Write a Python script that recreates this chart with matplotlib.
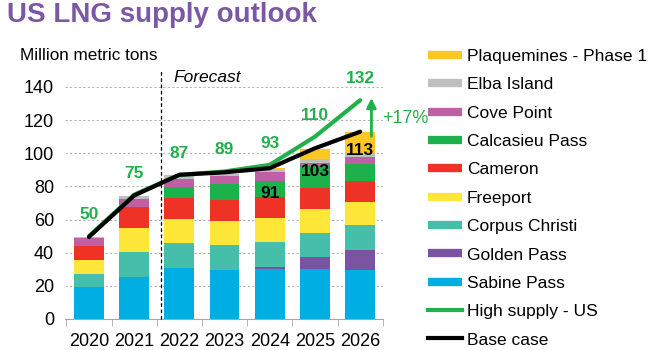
import numpy as np
import matplotlib
matplotlib.use('Agg')
from matplotlib import pyplot as plt
from matplotlib.lines import Line2D

plt.rcParams['font.family'] = ['Liberation Sans', 'DejaVu Sans']

years = ['2020', '2021', '2022', '2023', '2024', '2025', '2026']

# stacked terminal supply, million metric tons (bottom -> top)
sabine_pass = [19.5, 25.3, 30.8, 29.6, 30.2, 30.2, 29.6]
golden_pass = [0.0, 0.0, 0.0, 0.0, 1.2, 7.2, 12.0]
corpus_christi = [7.6, 15.1, 15.1, 15.1, 15.1, 14.5, 15.1]
freeport = [8.4, 14.4, 14.5, 14.5, 14.5, 14.5, 13.9]
cameron = [8.5, 12.7, 12.8, 12.8, 12.6, 12.9, 12.7]
calcasieu_pass = [0.0, 0.0, 6.5, 9.5, 9.7, 13.1, 10.3]
cove_point = [5.0, 4.8, 4.8, 5.0, 5.6, 2.0, 4.4]
elba_island = [0.6, 2.0, 2.4, 0.8, 1.6, 2.0, 2.0]
plaquemines = [0.0, 0.0, 0.0, 0.0, 0.8, 6.0, 12.9]

high_supply = [50, 75, 87, 89, 93, 110, 132]
base_case = [49.5, 74.5, 87, 88.5, 91, 103, 113]
base_labels = {4: '91', 5: '103', 6: '113'}

series = [
    ('Sabine Pass', sabine_pass, '#00AEE3'),
    ('Golden Pass', golden_pass, '#7A53A3'),
    ('Corpus Christi', corpus_christi, '#45BFAA'),
    ('Freeport', freeport, '#FFE73A'),
    ('Cameron', cameron, '#EE3226'),
    ('Calcasieu Pass', calcasieu_pass, '#1DB14C'),
    ('Cove Point', cove_point, '#BF5FA5'),
    ('Elba Island', elba_island, '#BFBFBF'),
    ('Plaquemines - Phase 1', plaquemines, '#FFC726'),
]

GREEN = '#22B04B'
PURPLE = '#7B58A6'

fig = plt.figure(figsize=(6.52, 3.5), dpi=100)
ax = fig.add_axes([0.0997, 0.0886, 0.4873, 0.6866])

x = np.arange(len(years))
bottom = np.zeros(len(years))
for name, vals, col in series:
    ax.bar(x, vals, width=0.66, bottom=bottom, color=col, zorder=2)
    bottom += np.array(vals)

ax.plot(x, high_supply, color=GREEN, lw=3, zorder=3, solid_capstyle='round')
ax.plot(x, base_case, color='black', lw=3, zorder=4, solid_capstyle='round')

# labels
for i, v in enumerate(high_supply):
    ax.text(i, v + 13, str(v), color=GREEN, fontsize=12.5, fontweight='bold',
            ha='center', va='center', zorder=5)
offs = {4: -15, 5: -14.3, 6: -11.6}
for i, s in base_labels.items():
    ax.text(i, base_case[i] + offs[i], s, color='black', fontsize=12.5, fontweight='bold',
            ha='center', va='center', zorder=5)

# arrow and percentage
ax.annotate('', xy=(6.25, 135), xytext=(6.25, 108.6),
            arrowprops=dict(arrowstyle='-|>', color=GREEN, lw=2, mutation_scale=14),
            annotation_clip=False)
pct = (high_supply[-1] / base_case[-1] - 1) * 100
ax.text(6.48, 121, f'+{pct:.0f}%', color=GREEN, fontsize=13, ha='left', va='center',
        clip_on=False)

# forecast divider
ax.plot([1.59, 1.59], [0, 150], color='black', lw=0.9, ls=(0, (3, 2)), clip_on=False, zorder=3)
ax.text(1.86, 145.6, 'Forecast', fontsize=12.5, style='italic', ha='left', va='center')

ax.set_xlim(-0.53, 6.5)
ax.set_ylim(0, 145)
ax.set_yticks(np.arange(0, 141, 20))
ax.set_xticks(x)
ax.set_xticklabels(years)
ax.set_xticks(np.arange(-0.5, 7, 1), minor=True)
ax.tick_params(axis='x', which='major', length=0, labelsize=13, pad=10)
ax.tick_params(axis='x', which='minor', length=5, color='#A6A6A6', direction='out')
ax.tick_params(axis='y', length=0, labelsize=13, pad=8)
ax.yaxis.grid(True, color='#B4B4B4', lw=0.8, ls=(0, (2, 2)), zorder=0)
for s in ['top', 'right', 'left']:
    ax.spines[s].set_visible(False)
ax.spines['bottom'].set_color('#A6A6A6')

fig.text(7 / 652, 1 - 15.5 / 350, 'US LNG supply outlook', color=PURPLE, fontsize=20,
         fontweight='bold', ha='left', va='center')
fig.text(20 / 652, 1 - 56 / 350, 'Million metric tons', fontsize=12.3, ha='left', va='center')

# legend
handles = [Line2D([], [], color=col, lw=6, solid_capstyle='butt') for _, _, col in series[::-1]]
labels = [name for name, _, _ in series[::-1]]
handles += [Line2D([], [], color=GREEN, lw=3), Line2D([], [], color='black', lw=3)]
labels += ['High supply - US', 'Base case']
fig.legend(handles, labels, loc='upper left', bbox_to_anchor=(421 / 652, 1 - 42 / 350),
           frameon=False, fontsize=12.5, handlelength=1.95, handletextpad=0.3,
           labelspacing=0.76, borderaxespad=0)

plt.savefig('out.png', dpi=100)
